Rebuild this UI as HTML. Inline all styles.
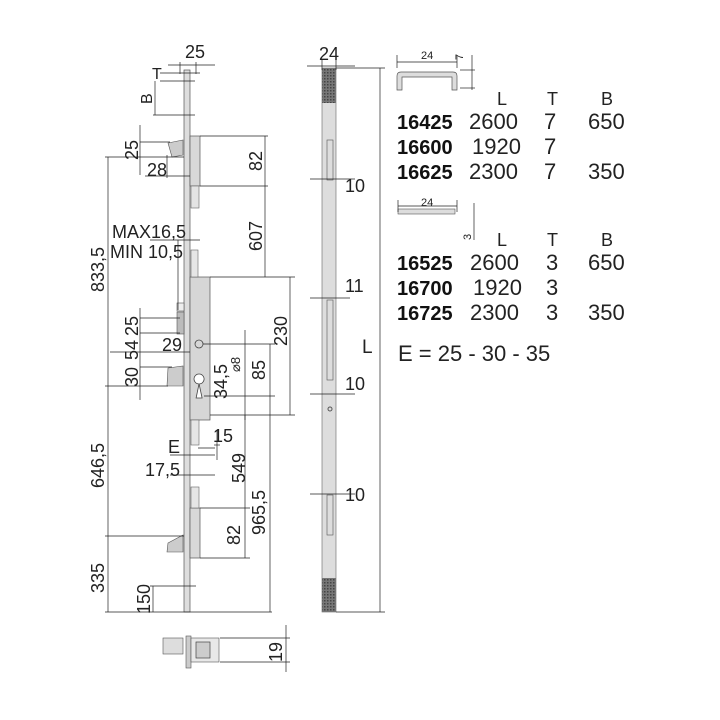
<!DOCTYPE html>
<html><head><meta charset="utf-8"><style>
html,body{margin:0;padding:0;background:#fff;}
svg{display:block;font-family:"Liberation Sans",sans-serif;}
.t{font-size:18px;fill:#222;}
.b{font-size:20px;font-weight:bold;fill:#111;}
.n{font-size:22px;fill:#222;}
.s{font-size:11px;fill:#222;}
line{stroke:#222;stroke-width:0.7;}
</style></head><body>
<svg width="720" height="720" viewBox="0 0 720 720">
<rect x="184" y="70" width="6" height="542" fill="#ddd" stroke="#555" stroke-width="0.7"/>
<rect x="190" y="136" width="10" height="50" fill="#d8d8d8" stroke="#555" stroke-width="0.7"/>
<polygon points="168,143 183,140 183,155 172,157" fill="#ccc" stroke="#555" stroke-width="0.6"/>
<rect x="191" y="186" width="8" height="22" fill="#e4e4e4" stroke="#666" stroke-width="0.6"/>
<rect x="190" y="277" width="20" height="143" fill="#d6d6d6" stroke="#555" stroke-width="0.7"/>
<rect x="191" y="250" width="7" height="27" fill="#e6e6e6" stroke="#666" stroke-width="0.6"/>
<rect x="177" y="303" width="7" height="8" fill="#eee" stroke="#555" stroke-width="0.6"/>
<rect x="177" y="312" width="7" height="22" fill="#bbb" stroke="#555" stroke-width="0.6"/>
<polygon points="168,368 183,366 183,386 167,386" fill="#ccc" stroke="#555" stroke-width="0.6"/>
<circle cx="199" cy="344" r="4" fill="none" stroke="#444" stroke-width="0.8"/>
<path d="M199,384 a5,5 0 1,1 0.1,0 l3,14 h-6 z" fill="#fff" stroke="#444" stroke-width="0.8"/>
<rect x="191" y="420" width="8" height="25" fill="#e6e6e6" stroke="#666" stroke-width="0.6"/>
<rect x="190" y="508" width="10" height="50" fill="#d8d8d8" stroke="#555" stroke-width="0.7"/>
<rect x="191" y="487" width="8" height="21" fill="#e6e6e6" stroke="#666" stroke-width="0.6"/>
<polygon points="168,543 183,535 183,552 167,552" fill="#ccc" stroke="#555" stroke-width="0.6"/>
<rect x="163" y="638" width="20" height="16" fill="#ddd" stroke="#555" stroke-width="0.6"/>
<rect x="186" y="636" width="5" height="32" fill="#ccc" stroke="#555" stroke-width="0.6"/>
<rect x="191" y="638" width="28" height="24" fill="#e8e8e8" stroke="#555" stroke-width="0.6"/>
<rect x="196" y="642" width="14" height="16" fill="#ccc" stroke="#444" stroke-width="0.7"/>
<defs><pattern id="h" width="3" height="3" patternUnits="userSpaceOnUse"><rect width="3" height="3" fill="#777"/><rect width="1.5" height="1.5" fill="#444"/></pattern></defs>
<rect x="322" y="68" width="14" height="544" fill="#ddd" stroke="#666" stroke-width="0.6"/>
<rect x="322" y="68" width="14" height="35" fill="url(#h)"/>
<rect x="322" y="578" width="14" height="34" fill="url(#h)"/>
<rect x="327" y="140" width="6" height="40" fill="none" stroke="#555" stroke-width="0.6"/>
<rect x="327" y="300" width="6" height="80" fill="none" stroke="#555" stroke-width="0.6"/>
<rect x="327" y="495" width="6" height="40" fill="none" stroke="#555" stroke-width="0.6"/>
<circle cx="330" cy="409" r="2" fill="none" stroke="#555"/>
<g>
<line x1="180" y1="62" x2="180" y2="74"/><line x1="196" y1="62" x2="196" y2="74"/><line x1="168" y1="65" x2="215" y2="65"/>
<line x1="160" y1="73" x2="200" y2="73"/>
<line x1="160" y1="81" x2="195" y2="81"/><line x1="153" y1="115" x2="195" y2="115"/><line x1="155" y1="81" x2="155" y2="115"/>
<line x1="140" y1="142" x2="170" y2="142"/><line x1="105" y1="157" x2="184" y2="157"/><line x1="140" y1="125" x2="140" y2="175"/>
<line x1="167" y1="155" x2="167" y2="178"/><line x1="145" y1="176" x2="190" y2="176"/>
<line x1="200" y1="136" x2="268" y2="136"/><line x1="200" y1="186" x2="268" y2="186"/><line x1="265" y1="136" x2="265" y2="277"/>
<line x1="150" y1="240" x2="200" y2="240"/><line x1="178" y1="240" x2="178" y2="310"/>
<line x1="210" y1="277" x2="295" y2="277"/><line x1="290" y1="277" x2="290" y2="415"/><line x1="210" y1="415" x2="295" y2="415"/>
<line x1="140" y1="318" x2="180" y2="318"/><line x1="140" y1="333" x2="180" y2="333"/><line x1="140" y1="308" x2="140" y2="400"/>
<line x1="110" y1="352" x2="190" y2="352"/><line x1="140" y1="367" x2="172" y2="367"/>
<line x1="105" y1="386" x2="168" y2="386"/><line x1="108" y1="157" x2="108" y2="612"/>
<line x1="203" y1="344" x2="275" y2="344"/><line x1="270" y1="344" x2="270" y2="612"/><line x1="245" y1="330" x2="245" y2="420"/>
<line x1="204" y1="396" x2="275" y2="396"/>
<line x1="214" y1="445" x2="220" y2="445"/><line x1="217" y1="430" x2="217" y2="460"/><line x1="198" y1="448" x2="215" y2="448"/>
<line x1="170" y1="455" x2="215" y2="455"/><line x1="170" y1="475" x2="215" y2="475"/>
<line x1="245" y1="415" x2="245" y2="558"/>
<line x1="200" y1="508" x2="250" y2="508"/><line x1="200" y1="558" x2="250" y2="558"/>
<line x1="105" y1="536" x2="184" y2="536"/>
<line x1="150" y1="586" x2="196" y2="586"/><line x1="153" y1="586" x2="153" y2="612"/>
<line x1="105" y1="612" x2="272" y2="612"/>
<line x1="220" y1="638" x2="290" y2="638"/><line x1="220" y1="662" x2="290" y2="662"/><line x1="286" y1="625" x2="286" y2="672"/>
<line x1="307" y1="66" x2="355" y2="66"/><line x1="322" y1="60" x2="322" y2="70"/><line x1="336" y1="60" x2="336" y2="70"/>
<line x1="336" y1="68" x2="385" y2="68"/><line x1="380" y1="68" x2="380" y2="612"/><line x1="336" y1="612" x2="385" y2="612"/>
<line x1="310" y1="179" x2="355" y2="179"/><line x1="310" y1="298" x2="350" y2="298"/>
<line x1="310" y1="394" x2="355" y2="394"/><line x1="310" y1="494" x2="355" y2="494"/>
</g>
<g class="t">
<text x="185" y="58">25</text>
<text x="152" y="79" font-size="16">T</text>
<text transform="translate(152,104) rotate(-90)" font-size="16">B</text>
<text transform="translate(138,160) rotate(-90)">25</text>
<text x="147" y="176">28</text>
<text x="112" y="238">MAX16,5</text>
<text x="110" y="258">MIN 10,5</text>
<text transform="translate(104,292) rotate(-90)">833,5</text>
<text transform="translate(262,171) rotate(-90)">82</text>
<text transform="translate(262,251) rotate(-90)">607</text>
<text transform="translate(287,346) rotate(-90)">230</text>
<text transform="translate(138,336) rotate(-90)">25</text>
<text transform="translate(138,360) rotate(-90)">54</text>
<text transform="translate(138,387) rotate(-90)">30</text>
<text x="162" y="351">29</text>
<text transform="translate(240,372) rotate(-90)" font-size="13">⌀8</text>
<text transform="translate(265,380) rotate(-90)">85</text>
<text transform="translate(227,399) rotate(-90)">34,5</text>
<text x="213" y="442">15</text>
<text x="168" y="453">E</text>
<text x="145" y="476">17,5</text>
<text transform="translate(245,483) rotate(-90)">549</text>
<text transform="translate(265,535) rotate(-90)">965,5</text>
<text transform="translate(240,545) rotate(-90)">82</text>
<text transform="translate(104,488) rotate(-90)">646,5</text>
<text transform="translate(104,593) rotate(-90)">335</text>
<text transform="translate(150,614) rotate(-90)">150</text>
<text transform="translate(282,662) rotate(-90)">19</text>
<text x="319" y="60">24</text>
<text x="345" y="192">10</text>
<text x="345" y="292">11</text>
<text x="345" y="390">10</text>
<text x="345" y="501">10</text>
<text x="362" y="353" font-size="19">L</text>
</g>
<path d="M397,90 v-14 q0,-4 4,-4 h52 q4,0 4,4 v14 h-5 v-13 h-50 v13 z" fill="#ddd" stroke="#555" stroke-width="0.7"/>
<line x1="397" y1="62" x2="457" y2="62"/><line x1="397" y1="55" x2="397" y2="68"/><line x1="457" y1="55" x2="457" y2="68"/>
<line x1="460" y1="70" x2="475" y2="70"/><line x1="460" y1="88" x2="475" y2="88"/><line x1="472" y1="55" x2="472" y2="90"/>
<text x="421" y="59" class="s">24</text>
<text transform="translate(463,60) rotate(-90)" class="s" font-size="12">7</text>
<rect x="398" y="209" width="57" height="5" fill="#ddd" stroke="#555" stroke-width="0.6"/>
<line x1="398" y1="206" x2="457" y2="206"/><line x1="398" y1="200" x2="398" y2="212"/><line x1="457" y1="200" x2="457" y2="212"/>
<line x1="474" y1="203" x2="474" y2="240"/>
<text x="421" y="206" class="s">24</text>
<text transform="translate(471,240) rotate(-90)" class="s" font-size="12">3</text>
<g class="t" font-size="17"><text x="497" y="105">L</text><text x="547" y="105">T</text><text x="601" y="105">B</text>
<text x="497" y="246">L</text><text x="547" y="246">T</text><text x="601" y="246">B</text></g>
<g class="b">
<text x="397" y="129">16425</text><text x="397" y="154">16600</text><text x="397" y="179">16625</text>
<text x="397" y="270">16525</text><text x="397" y="295">16700</text><text x="397" y="320">16725</text></g>
<g class="n">
<text x="469" y="129">2600</text><text x="544" y="129">7</text><text x="588" y="129">650</text>
<text x="472" y="154">1920</text><text x="544" y="154">7</text>
<text x="469" y="179">2300</text><text x="544" y="179">7</text><text x="588" y="179">350</text>
<text x="470" y="270">2600</text><text x="546" y="270">3</text><text x="588" y="270">650</text>
<text x="473" y="295">1920</text><text x="546" y="295">3</text>
<text x="470" y="320">2300</text><text x="546" y="320">3</text><text x="588" y="320">350</text>
<text x="398" y="361">E = 25 - 30 - 35</text></g>
</svg>
</body></html>
